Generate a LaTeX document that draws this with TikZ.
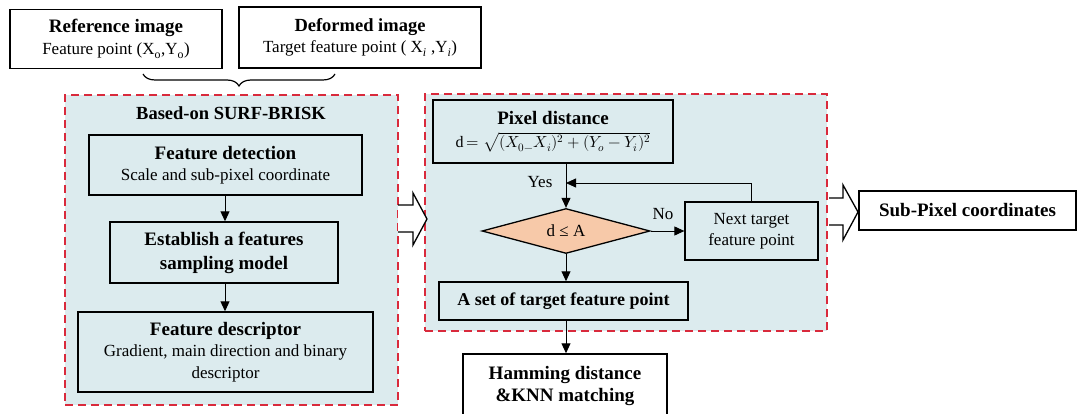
\documentclass[tikz,border=0pt]{standalone}
\usepackage{fontspec}
\usepackage{unicode-math}
\setmainfont{Liberation Serif}
\setmathfont{Latin Modern Math}
\usetikzlibrary{shapes.geometric,arrows.meta,decorations.pathreplacing}
\definecolor{paleblue}{HTML}{DCEBEE}
\definecolor{peach}{HTML}{F7C9A9}
\definecolor{dashred}{HTML}{D92A3C}
\newcommand\mytitle{\bfseries\fontsize{19}{22}\selectfont}
\newcommand\mybody{\fontsize{17}{21.5}\selectfont}
\begin{document}
\begin{tikzpicture}[x=1pt,y=-1pt,
  wbox/.style={draw, line width=1.3pt, fill=white, align=center, inner sep=1pt},
  bbox/.style={draw, line width=1.4pt, fill=paleblue, align=center, inner sep=1pt},
  container/.style={draw=dashred, dash pattern=on 8pt off 5pt, line width=1.5pt, fill=paleblue},
  arr/.style={-{Triangle[length=10pt,width=9pt]}, line width=1pt},
  hollow/.style={draw, line width=1.3pt, fill=white, line join=miter},
  lbl/.style={font=\mybody, inner sep=1pt}]
\clip (0,0) rectangle (1081,414);
\fill[white] (0,0) rectangle (1081,414);

% top boxes
\node[wbox, minimum width=212, minimum height=59, font=\mybody] (ref) at (116,39)
  {{\mytitle Reference image}\\Feature point (X\textsubscript{o},Y\textsubscript{o})};
\node[wbox, minimum width=242, minimum height=61, font=\mybody] (def) at (360,37.5)
  {{\bfseries\fontsize{18.5}{22}\selectfont Deformed image}\\Target feature point ( X\textsubscript{\itshape i} ,Y\textsubscript{\itshape i})};
\coordinate (braceL) at (143,74);
\coordinate (braceR) at (335,74);
\draw[decorate, decoration={brace, mirror, amplitude=12pt}, line width=1.2pt] (braceL) -- (braceR);

% left container
\node[container, minimum width=333, minimum height=310] (left) at (231.5,250) {};
\node[font=\bfseries\fontsize{18.5}{22}\selectfont, inner sep=0] (ltitle) at (231,113) {Based-on SURF-BRISK};
\node[bbox, minimum width=273, minimum height=60, font=\mybody] (fd) at (225.5,165)
  {{\mytitle Feature detection}\\Scale and sub-pixel coordinate};
\node[bbox, minimum width=228, minimum height=61, font=\bfseries\fontsize{19}{24}\selectfont] (est) at (224,252.5)
  {Establish a features\\sampling model};
\node[bbox, minimum width=295, minimum height=80, font=\mybody] (desc) at (225.5,352)
  {{\mytitle Feature descriptor}\\Gradient, main direction and binary\\descriptor};
\draw[arr] (fd.south -| 225,0) -- (est.north -| 225,0);
\draw[arr] (est.south -| 225,0) -- (desc.north -| 225,0);

% right container
\node[container, minimum width=402, minimum height=237] (right) at (626,212.5) {};
\node[bbox, line width=2.4pt, minimum width=240, minimum height=63, font=\fontsize{16}{23}\selectfont] (pix) at (553,131.5)
  {{\mytitle Pixel distance}\\d\,$=\sqrt{(X_0 {}_{-} X_i)^2+(Y_o-Y_i)^2}$};
\node[diamond, draw, line width=1.3pt, fill=peach, aspect=3.7, minimum width=168, minimum height=45, inner sep=0, font=\mybody] (dia) at (566,231) {d ≤ A};
\node[bbox, line width=1.3pt, minimum width=133, minimum height=58, font=\mybody] (next) at (751.5,231) {Next target\\feature point};
\node[bbox, line width=1.5pt, minimum width=249, minimum height=38, font=\bfseries\fontsize{18}{21}\selectfont] (set) at (563.5,301) {A set of target feature point};
\node[wbox, line width=1.5pt, minimum width=204, minimum height=64, font=\bfseries\fontsize{19}{22}\selectfont] (ham) at (565,386) {Hamming distance\\\&KNN matching};
\node[wbox, minimum width=217, minimum height=39, font=\bfseries\fontsize{19}{22}\selectfont] (sub) at (967.5,210.5) {Sub-Pixel coordinates};

\draw[arr] (dia.north |- pix.south) -- (dia.north);
\node[lbl] (yes) at (540,182) {Yes};
\draw[arr] (dia.east) -- (next.west);
\node[lbl] (no) at (663,214) {No};
\coordinate (fb) at (566,183);
\draw[arr, line width=0.8pt] (next.north) |- (fb);
\draw[arr] (dia.south) -- (dia.south |- set.north);
\draw[arr] (dia.south |- set.south) -- (dia.south |- ham.north);

% hollow arrows
\draw[hollow] (398,205) -- (413,205) -- (413,193) -- (427,219) -- (413,245) -- (413,232) -- (398,232);
\draw[hollow] (829,198) -- (843,198) -- (843,185) -- (858,212) -- (843,240) -- (843,225) -- (829,225);
\end{tikzpicture}
\end{document}
